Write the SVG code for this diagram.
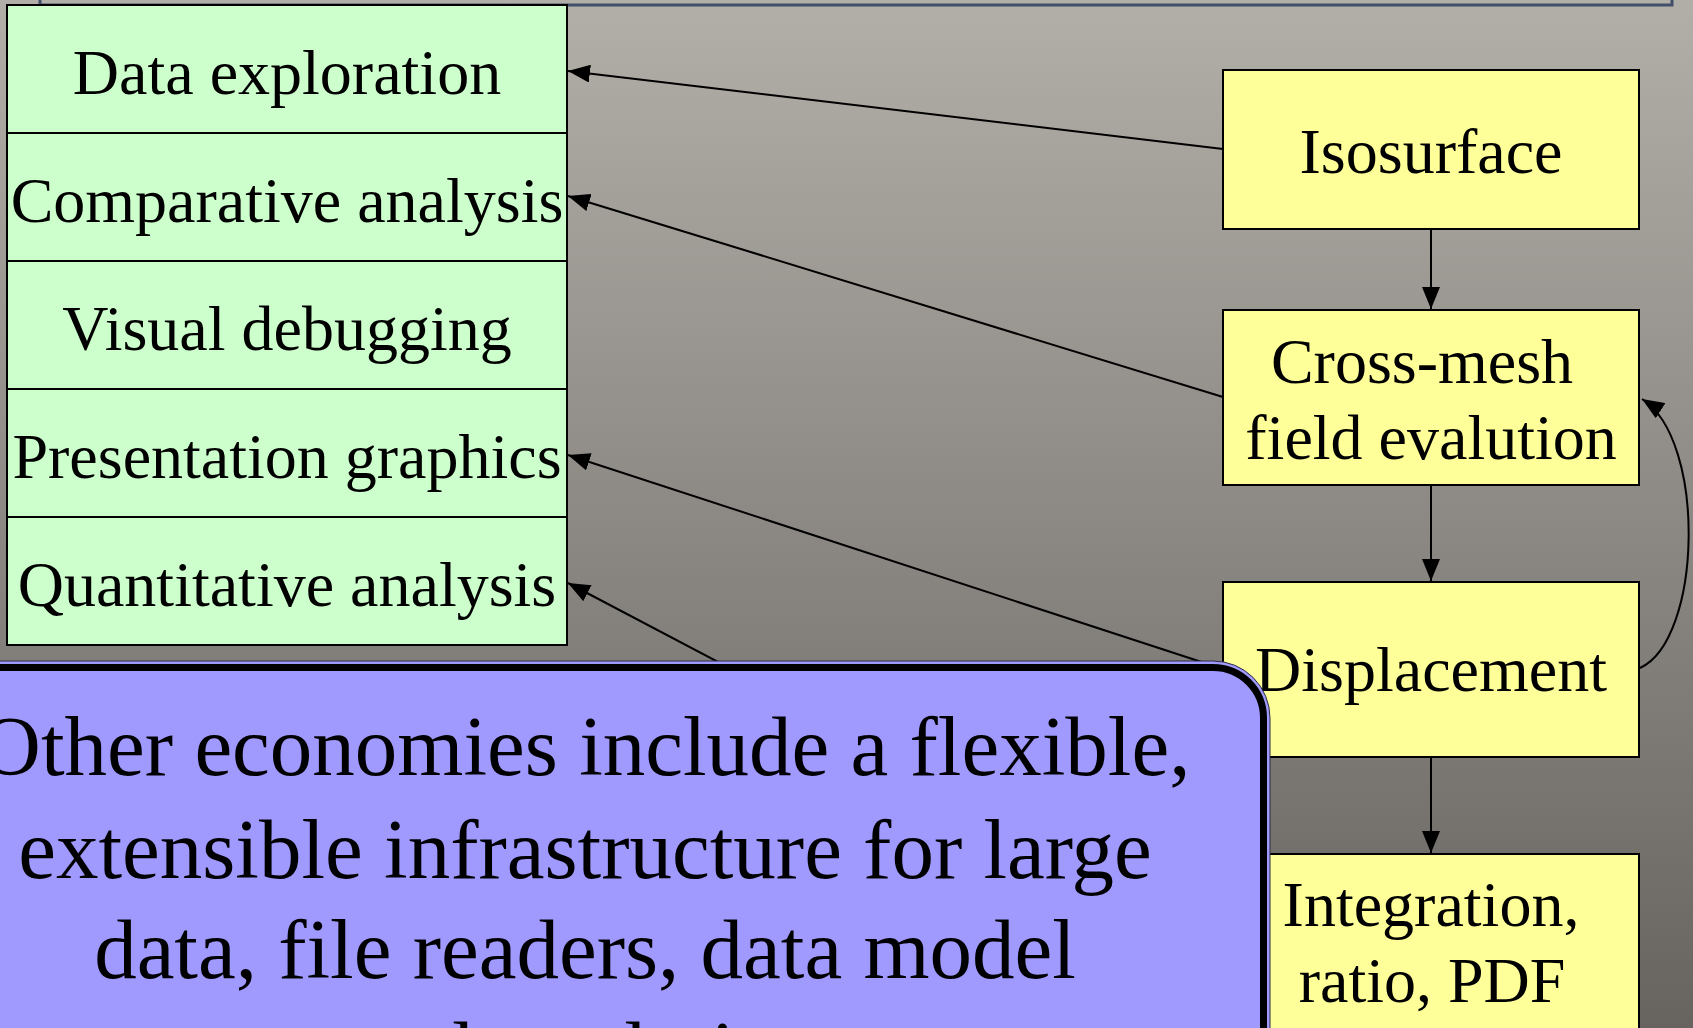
<svg xmlns="http://www.w3.org/2000/svg" width="1693" height="1028" viewBox="0 0 1693 1028">
<defs>
<linearGradient id="bg" x1="0" y1="0" x2="0" y2="1">
<stop offset="0" stop-color="#b2aea8"/>
<stop offset="1" stop-color="#67635f"/>
</linearGradient>
<marker id="ah" markerUnits="userSpaceOnUse" markerWidth="23" markerHeight="18" refX="22" refY="9" orient="auto">
<path d="M0,0 L22,9 L0,18 z" fill="#000"/>
</marker>
</defs>
<style>
.t{font-family:"Liberation Serif","Times New Roman",serif;fill:#000;text-anchor:middle}
.n{font-size:64px}
.g{fill:#ccffcc;stroke:#000;stroke-width:2}
.y{fill:#ffff99;stroke:#000;stroke-width:2}
.c{fill:none;stroke:#000;stroke-width:2}
.big{font-size:85px}
</style>
<rect x="0" y="0" width="1693" height="1028" fill="url(#bg)"/>
<rect x="40" y="-100" width="1632" height="105" fill="none" stroke="#3f5068" stroke-width="3"/>

<g id="connectors">
<line class="c" x1="1223" y1="149" x2="568" y2="71" marker-end="url(#ah)"/>
<line class="c" x1="1223" y1="397" x2="568" y2="196" marker-end="url(#ah)"/>
<line class="c" x1="1223" y1="669" x2="568" y2="455" marker-end="url(#ah)"/>
<line class="c" x1="1223" y1="928" x2="568" y2="583" marker-end="url(#ah)"/>
<line class="c" x1="1431" y1="229" x2="1431" y2="309" marker-end="url(#ah)"/>
<line class="c" x1="1431" y1="485" x2="1431" y2="581" marker-end="url(#ah)"/>
<line class="c" x1="1431" y1="757" x2="1431" y2="853" marker-end="url(#ah)"/>
<path class="c" d="M1640,668 C1702,640 1707,440 1642,399" marker-end="url(#ah)"/>
</g>

<g id="data-exploration"><rect class="g" x="7" y="5" width="560" height="128"/><text class="t n" x="287" y="94">Data exploration</text></g>
<g id="comparative-analysis"><rect class="g" x="7" y="133" width="560" height="128"/><text class="t n" x="287" y="222">Comparative analysis</text></g>
<g id="visual-debugging"><rect class="g" x="7" y="261" width="560" height="128"/><text class="t n" x="287" y="350">Visual debugging</text></g>
<g id="presentation-graphics"><rect class="g" x="7" y="389" width="560" height="128"/><text class="t n" x="287" y="478">Presentation graphics</text></g>
<g id="quantitative-analysis"><rect class="g" x="7" y="517" width="560" height="128"/><text class="t n" x="287" y="606">Quantitative analysis</text></g>

<g id="isosurface"><rect class="y" x="1223" y="70" width="416" height="159"/><text class="t n" x="1431" y="173">Isosurface</text></g>
<g id="cross-mesh"><rect class="y" x="1223" y="310" width="416" height="175"/><text class="t n" x="1422" y="383">Cross-mesh</text><text class="t n" x="1431" y="459">field evalution</text></g>
<g id="displacement"><rect class="y" x="1223" y="582" width="416" height="175"/><text class="t n" x="1431" y="691">Displacement</text></g>
<g id="integration"><rect class="y" x="1223" y="854" width="416" height="200"/><text class="t n" x="1431" y="926">Integration,</text><text class="t n" x="1432" y="1002">ratio, PDF</text></g>

<g id="callout">
<rect x="-80" y="661" width="1350" height="500" rx="57" fill="#a099fe" stroke="#2a2a44" stroke-width="1"/>
<rect x="-73.5" y="667.5" width="1337" height="487" rx="50.5" fill="none" stroke="#000" stroke-width="7"/>
<text class="t big" x="585" y="775">Other economies include a flexible,</text>
<text class="t big" x="585" y="878">extensible infrastructure for large</text>
<text class="t big" x="585" y="978">data, file readers, data model</text>
<text class="t big" x="585" y="1080">and rendering</text>
</g>
</svg>
